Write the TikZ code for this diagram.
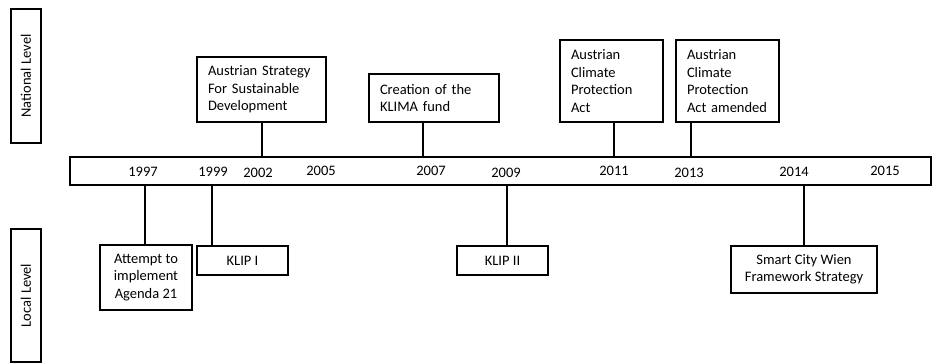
\documentclass[tikz,border=0pt]{standalone}
\usepackage{fontspec}
\setmainfont{Carlito}
\begin{document}
\begin{tikzpicture}[x=1pt,y=-1pt,
  every node/.style={font=\fontsize{14.5}{17.5}\selectfont},
  evbox/.style={draw, line width=1.9pt, rectangle, inner ysep=0pt},
  upbox/.style={evbox, align=left, inner xsep=11pt},
  lowbox/.style={evbox, align=center, inner xsep=2pt},
  levelbox/.style={draw, line width=1.9pt, minimum width=30pt, inner sep=0pt},
  yr/.style={inner sep=0pt},
  link/.style={line width=1.9pt}
]
\useasboundingbox (0,0) rectangle (933,363);

% level labels on the left
\node[levelbox, minimum height=134pt] (nat) at (26,76) {\rotatebox{90}{National Level}};
\node[levelbox, minimum height=133pt] (loc) at (26,295.5) {\rotatebox{90}{Local Level}};

% timeline bar
\node[draw, line width=1.9pt, minimum width=861pt, minimum height=28pt, inner sep=0pt] (bar) at (500.5,171) {};

% years
\node[yr] (y1997) at (143,172) {1997};
\node[yr] (y1999) at (213,172) {1999};
\node[yr] (y2002) at (258,172.5) {2002};
\node[yr] (y2005) at (321,171) {2005};
\node[yr] (y2007) at (431,171) {2007};
\node[yr] (y2009) at (506,173) {2009};
\node[yr] (y2011) at (614,170.5) {2011};
\node[yr] (y2013) at (689,172.5) {2013};
\node[yr] (y2014) at (794,172) {2014};
\node[yr] (y2015) at (885,170.5) {2015};

% attachment points on the bar
\coordinate (t1997) at (145,185);
\coordinate (t1999) at (212,185);
\coordinate (t2002) at (262,157);
\coordinate (t2007) at (423,157);
\coordinate (t2009) at (507,185);
\coordinate (t2011) at (614,157);
\coordinate (t2013) at (691,157);
\coordinate (t2014) at (804,185);

% national events
\node[upbox, minimum width=129pt, minimum height=65pt, text width=107pt] (strat) at (261.5,89.5)
  {Austrian Strategy\\For Sustainable\\Development};
\node[upbox, minimum width=130pt, minimum height=48pt, text width=108pt] (klima) at (434,98)
  {Creation of the\\KLIMA fund};
\node[upbox, minimum width=103pt, minimum height=82pt, text width=81pt] (act) at (611.5,81)
  {Austrian\\Climate\\Protection\\Act};
\node[upbox, minimum width=103pt, minimum height=82pt, text width=81pt] (actam) at (727.5,81)
  {Austrian\\Climate\\Protection\\Act amended};

% local events
\node[lowbox, minimum width=92pt, minimum height=65pt] (agenda) at (146,277.5)
  {Attempt to\\implement\\Agenda 21};
\node[lowbox, minimum width=91pt, minimum height=29pt] (klip1) at (242.5,260.5) {KLIP I};
\node[lowbox, minimum width=91pt, minimum height=29pt] (klip2) at (502.5,260.5) {KLIP II};
\node[lowbox, minimum width=146pt, minimum height=47pt] (smart) at (804,269.5)
  {Smart City Wien\\Framework Strategy};

% connectors
\draw[link] (t2002) -- (t2002 |- strat.south);
\draw[link] (t2007) -- (t2007 |- klima.south);
\draw[link] (t2011) -- (t2011 |- act.south);
\draw[link] (t2013) -- (t2013 |- actam.south);
\draw[link] (t1997) -- (t1997 |- agenda.north);
\draw[link] (t1999) -- (t1999 |- klip1.north);
\draw[link] (t2009) -- (t2009 |- klip2.north);
\draw[link] (t2014) -- (t2014 |- smart.north);
\end{tikzpicture}
\end{document}
